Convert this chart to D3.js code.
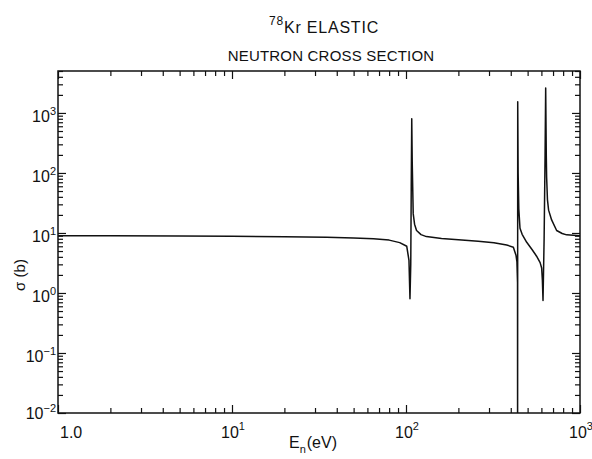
<!DOCTYPE html>
<html>
<head>
<meta charset="utf-8">
<script src="https://cdn.jsdelivr.net/npm/d3@7/dist/d3.min.js"></script>
<style>
  html, body { margin: 0; padding: 0; background: #fff; }
  svg { display: block; font-family: "Liberation Sans", Arial, sans-serif; }
</style>
</head>
<body>
<svg id="chart" width="592" height="459"></svg>
<script>
// Elastic neutron cross section of 78Kr (barns) versus neutron energy (eV)
const energy = [
  1.0, 2, 5, 10, 20, 35, 50, 65, 80, 92,
  101, 104, 105.4, 106.5, 107.2, 107.9, 108.6, 110, 112, 115,
  122, 131, 160, 200, 260, 320, 379, 414, 429, 434,
  437.5, 437.9, 438.6, 441, 445, 452, 465, 494, 530, 563,
  590, 602, 608, 613, 622, 630, 635, 640, 643, 650,
  660, 687, 734, 790, 838, 1000
];
const sigma = [
  9.0, 8.95, 8.9, 8.8, 8.65, 8.45, 8.25, 8.0, 7.6, 6.9,
  6.0, 3.5, 0.8, 3, 60, 800, 150, 21, 14, 11,
  9.4, 8.7, 8.1, 7.7, 7.3, 6.9, 6.3, 5.8, 4.2, 3.3,
  1.5, 0.001, 1540, 100, 25, 12, 9.5, 7.0, 5.3, 4.1,
  3.2, 2.6, 1.6, 0.75, 8, 200, 2600, 200, 85, 36,
  24, 16.5, 11, 9.8, 9.3, 9.0
];

// Decade labels on each axis
const xDecades = [0, 1, 2, 3];
const yDecades = [-2, -1, 0, 1, 2, 3];

const titleLine1 = { sup: "78", main: "Kr ELASTIC" };
const titleLine2 = "NEUTRON CROSS SECTION";

const svg = d3.select("#chart");
const plotL = 58, plotR = 580, plotT = 71, plotB = 413;

const x = d3.scaleLog().domain([1, 1000]).range([plotL, plotR]);
const y = d3.scaleLog().domain([0.01, 5000]).range([plotB, plotT]);

const ink = "#111";
const isMajor = v => Math.abs(Math.log10(v) - Math.round(Math.log10(v))) < 1e-9;

const xTicks = x.ticks();
const yTicks = y.ticks();
const xMinor = xTicks.filter(v => !isMajor(v));
const xMajor = xTicks.filter(isMajor);
const yMinor = yTicks.filter(v => !isMajor(v));
const yMajor = yTicks.filter(isMajor);

function styleAxis(g) {
  g.select(".domain").remove();
  g.selectAll(".tick line").attr("stroke", ink).attr("stroke-width", 1.2);
  g.selectAll(".tick text").remove();
}

// inward-pointing ticks on all four sides
[[xMinor, 5], [xMajor, 8]].forEach(([vals, len]) => {
  svg.append("g").attr("transform", `translate(0,${plotB})`)
    .call(d3.axisBottom(x).tickValues(vals).tickSize(-len).tickFormat(""))
    .call(styleAxis);
  svg.append("g").attr("transform", `translate(0,${plotT})`)
    .call(d3.axisTop(x).tickValues(vals).tickSize(-len).tickFormat(""))
    .call(styleAxis);
});
[[yMinor, 5], [yMajor, 8]].forEach(([vals, len]) => {
  svg.append("g").attr("transform", `translate(${plotL},0)`)
    .call(d3.axisLeft(y).tickValues(vals).tickSize(-len).tickFormat(""))
    .call(styleAxis);
  svg.append("g").attr("transform", `translate(${plotR},0)`)
    .call(d3.axisRight(y).tickValues(vals).tickSize(-len).tickFormat(""))
    .call(styleAxis);
});

// frame
svg.append("rect")
  .attr("x", plotL).attr("y", plotT)
  .attr("width", plotR - plotL).attr("height", plotB - plotT)
  .attr("fill", "none").attr("stroke", ink).attr("stroke-width", 1.5);

// cross-section curve, clipped to the plot frame
svg.append("clipPath").attr("id", "plotClip")
  .append("rect").attr("x", plotL).attr("y", plotT)
  .attr("width", plotR - plotL).attr("height", plotB - plotT);

const pts = energy.map((e, i) => [e, sigma[i]]);
svg.append("path")
  .datum(pts)
  .attr("clip-path", "url(#plotClip)")
  .attr("fill", "none")
  .attr("stroke", ink)
  .attr("stroke-width", 1.5)
  .attr("stroke-linejoin", "round")
  .attr("d", d3.line().x(d => x(d[0])).y(d => y(d[1])));

// x tick labels
xDecades.forEach(p => {
  const v = Math.pow(10, p);
  const t = svg.append("text")
    .attr("y", plotB + 25)
    .attr("font-size", 16)
    .attr("fill", ink);
  if (p === 0) {
    t.attr("x", x(v) + 2).attr("text-anchor", "start").text("1.0");
  } else {
    t.attr("x", x(v) + 1).attr("text-anchor", "middle");
    t.append("tspan").text("10");
    t.append("tspan").attr("font-size", 11).attr("dy", -8).text(p);
  }
});

// y tick labels
yDecades.forEach(p => {
  const v = Math.pow(10, p);
  const t = svg.append("text")
    .attr("x", plotL - 2)
    .attr("y", y(v) + (p === -2 ? 6 : 9))
    .attr("text-anchor", "end")
    .attr("font-size", 16)
    .attr("fill", ink);
  t.append("tspan").text("10");
  t.append("tspan").attr("font-size", 11).attr("dy", -7).text(p < 0 ? "\u2212" + (-p) : p);
});

// axis titles
const xt = svg.append("text")
  .attr("x", 313).attr("y", 448)
  .attr("text-anchor", "middle")
  .attr("font-size", 16).attr("fill", ink);
xt.append("tspan").text("E");
xt.append("tspan").attr("font-size", 11).attr("dy", 5).text("n");
xt.append("tspan").attr("dy", -5).attr("dx", 1).text("(eV)");

svg.append("text")
  .attr("transform", "translate(25,275) rotate(-90)")
  .attr("text-anchor", "middle")
  .attr("font-size", 15).attr("fill", ink)
  .text("\u03C3 (b)");

// title
const t1 = svg.append("text")
  .attr("x", 324).attr("y", 33)
  .attr("text-anchor", "middle")
  .attr("font-size", 16).attr("letter-spacing", 0.8).attr("fill", ink);
t1.append("tspan").attr("font-size", 12).attr("dy", -8).text(titleLine1.sup);
t1.append("tspan").attr("dy", 8).text(titleLine1.main);

svg.append("text")
  .attr("x", 331).attr("y", 61)
  .attr("text-anchor", "middle")
  .attr("font-size", 15).attr("letter-spacing", 0.2).attr("fill", ink)
  .text(titleLine2);
</script>
</body>
</html>
